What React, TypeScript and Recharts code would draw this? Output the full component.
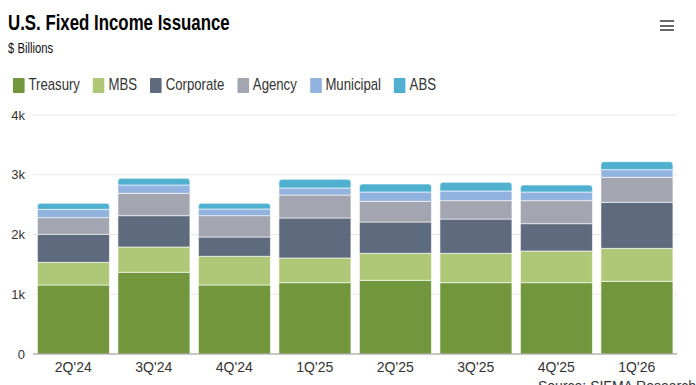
// Выпуск облигаций США — stacked Bar Chart
import React from 'react';
import { BarChart, Bar, XAxis, YAxis, CartesianGrid } from 'recharts';

const quarters = ["2Q'24", "3Q'24", "4Q'24", "1Q'25", "2Q'25", "3Q'25", "4Q'25", "1Q'26"];
const treasury = [1155, 1367, 1155, 1194, 1233, 1194, 1194, 1216];
const mbs = [379, 424, 480, 413, 452, 491, 530, 552];
const corporate = [469, 524, 323, 669, 524, 574, 457, 770];
const agency = [279, 374, 357, 385, 346, 307, 385, 419];
const municipal = [139, 139, 112, 117, 156, 162, 145, 128];
const abs = [101, 112, 95, 145, 134, 145, 117, 134];
const yTicks = [0, 1000, 2000, 3000, 4000];

const series = [
  { key: 'Treasury', values: treasury, color: '#71963c' },
  { key: 'MBS', values: mbs, color: '#afc878' },
  { key: 'Corporate', values: corporate, color: '#5e6a7d' },
  { key: 'Agency', values: agency, color: '#a3a5b0' },
  { key: 'Municipal', values: municipal, color: '#92b2e0' },
  { key: 'ABS', values: abs, color: '#4fb1cf' },
];

const data = quarters.map(function (q, i) {
  const row: any = { quarter: q };
  series.forEach(function (s) {
    row[s.key] = s.values[i];
  });
  return row;
});

const FONT = '"Liberation Sans", Arial, sans-serif';

export default function App() {
  return (
    <div
      style={{
        position: 'absolute',
        left: 0,
        top: 0,
        width: 696,
        height: 385,
        overflow: 'hidden',
        background: '#fff',
        fontFamily: FONT,
      }}
    >
      <div
        style={{
          position: 'absolute',
          left: 8,
          top: 10,
          fontSize: 22,
          fontWeight: 'bold',
          color: '#000',
          whiteSpace: 'nowrap',
          transform: 'scaleX(0.765)',
          transformOrigin: 'left top',
        }}
      >
        U.S. Fixed Income Issuance
      </div>
      <div
        style={{
          position: 'absolute',
          left: 8,
          top: 39,
          fontSize: 15,
          color: '#111',
          whiteSpace: 'nowrap',
          transform: 'scaleX(0.75)',
          transformOrigin: 'left top',
        }}
      >
        $ Billions
      </div>

      {/* легенда, сжатая по горизонтали как в оригинале */}
      <div
        style={{
          position: 'absolute',
          left: 13,
          top: 75,
          display: 'flex',
          gap: 17,
          whiteSpace: 'nowrap',
          transform: 'scaleX(0.774)',
          transformOrigin: 'left top',
        }}
      >
        {series.map(function (s) {
          return (
            <div key={s.key} style={{ display: 'flex', alignItems: 'center', fontSize: 17, color: '#333' }}>
              <span
                style={{
                  display: 'inline-block',
                  width: 15,
                  height: 15,
                  background: s.color,
                  borderRadius: 1,
                  marginRight: 5,
                }}
              />
              {s.key}
            </div>
          );
        })}
      </div>

      {/* меню */}
      <div style={{ position: 'absolute', left: 660, top: 20 }}>
        {[0, 1, 2].map(function (i) {
          return <div key={i} style={{ width: 14, height: 2, background: '#666', marginBottom: 2.5 }} />;
        })}
      </div>

      <div style={{ position: 'absolute', left: 0, top: 0 }}>
        <BarChart
          width={696}
          height={385}
          data={data}
          margin={{ top: 115, right: 19, bottom: 1, left: 5 }}
          barCategoryGap="5.5%"
        >
          <CartesianGrid vertical={false} stroke="#e6e6e6" />
          <XAxis
            dataKey="quarter"
            height={30}
            tickLine={false}
            axisLine={{ stroke: '#999' }}
            tick={{ fill: '#333', fontSize: 14, fontFamily: FONT }}
          />
          <YAxis
            width={28}
            domain={[0, 4000]}
            ticks={yTicks}
            axisLine={false}
            tickLine={false}
            tick={{ fill: '#333', fontSize: 13, fontFamily: FONT }}
            tickFormatter={function (v: number) {
              return v === 0 ? '0' : `${v / 1000}k`;
            }}
          />
          {series.map(function (s, i) {
            return (
              <Bar
                key={s.key}
                dataKey={s.key}
                stackId="a"
                fill={s.color}
                stroke="#fff"
                strokeWidth={0.6}
                radius={i === series.length - 1 ? [3, 3, 0, 0] : 0}
                isAnimationActive={false}
              />
            );
          })}
        </BarChart>
      </div>

      <div style={{ position: 'absolute', left: 538, top: 378, fontSize: 14, color: '#333', whiteSpace: 'nowrap' }}>
        Source: SIFMA Research
      </div>
    </div>
  );
}
